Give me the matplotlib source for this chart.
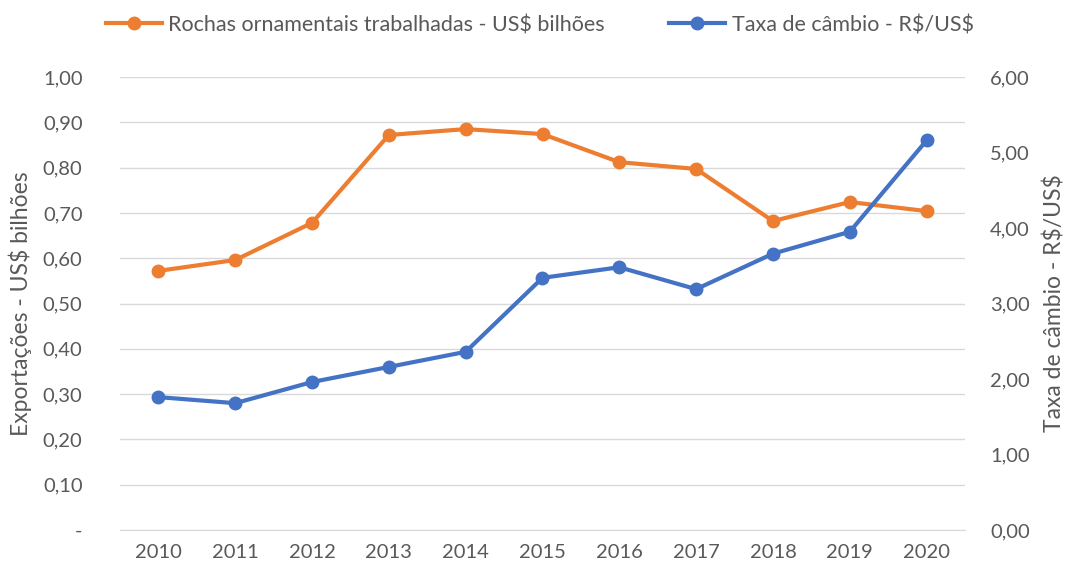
import matplotlib
matplotlib.use("Agg")
import matplotlib.pyplot as plt
from matplotlib.ticker import FixedLocator, FuncFormatter

years = ["2010", "2011", "2012", "2013", "2014", "2015", "2016", "2017", "2018", "2019", "2020"]
rochas = [0.572, 0.596, 0.678, 0.872, 0.885, 0.874, 0.812, 0.797, 0.682, 0.724, 0.704]
cambio = [1.76, 1.68, 1.96, 2.16, 2.36, 3.34, 3.48, 3.19, 3.66, 3.95, 5.16]

plt.rcParams['font.family'] = ['Lato', 'DejaVu Sans']
plt.rcParams['text.parse_math'] = False
txt = '#595959'
orange = '#ED7D31'
blue = '#4472C4'

fig = plt.figure(figsize=(10.69, 5.70), dpi=100)
ax = fig.add_axes([120/1069, 1-530/570, 845/1069, 453/570])
ax2 = ax.twinx()

x = list(range(len(years)))
l1, = ax.plot(x, rochas, color=orange, lw=3, marker='o', ms=9, label='Rochas ornamentais trabalhadas - US$ bilhões')
l2, = ax2.plot(x, cambio, color=blue, lw=3, marker='o', ms=9, label='Taxa de câmbio - R$/US$')

ax.set_xlim(-0.5, len(years)-0.5)
ax.set_ylim(0, 1.0)
ax2.set_ylim(0, 6.0)
ax.yaxis.set_major_locator(FixedLocator([i/10 for i in range(11)]))
ax.yaxis.set_major_formatter(FuncFormatter(lambda v, p: '-' if abs(v) < 1e-9 else f'{v:.2f}'.replace('.', ',')))
ax2.yaxis.set_major_locator(FixedLocator(list(range(7))))
ax2.yaxis.set_major_formatter(FuncFormatter(lambda v, p: f'{v:.2f}'.replace('.', ',')))
ax.set_xticks(x)
ax.set_xticklabels(years)

ax.grid(axis='y', color='#D9D9D9', lw=1)
ax.set_axisbelow(True)
for a in (ax, ax2):
    for s in a.spines.values():
        s.set_visible(False)
    a.tick_params(length=0, colors=txt, labelsize=14.5)
ax.spines['bottom'].set_visible(True)
ax.spines['bottom'].set_color('#D9D9D9')
ax.tick_params(axis='y', pad=27)
ax2.tick_params(axis='y', pad=18)
ax.tick_params(axis='x', pad=10)

ax.set_ylabel('Exportações - US$ bilhões', color=txt, fontsize=16.5, labelpad=8)
ax2.set_ylabel('Taxa de câmbio - R$/US$', color=txt, fontsize=16.5, labelpad=10)

fig.legend(handles=[l1, l2], loc='center', bbox_to_anchor=(0.505, 1-25/570), ncol=2,
           frameon=False, fontsize=15.5, labelcolor=txt, handlelength=2.6,
           handletextpad=0.3, columnspacing=3.0)

fig.savefig('out.png', dpi=100)
